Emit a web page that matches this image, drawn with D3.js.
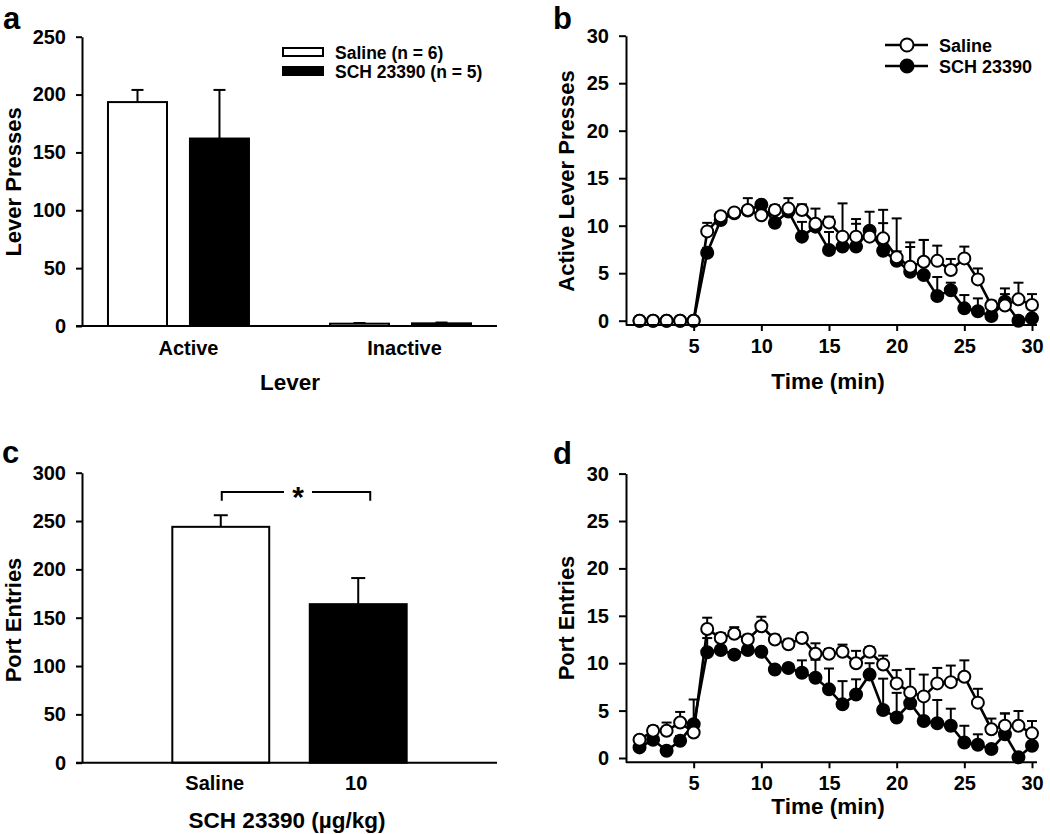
<!DOCTYPE html>
<html>
<head>
<meta charset="utf-8">
<script src="https://cdn.jsdelivr.net/npm/d3@7"></script>
<style>
  html, body { margin: 0; padding: 0; background: #fff; }
  svg { display: block; }
  text { font-family: "Liberation Sans", Arial, Helvetica, sans-serif; font-weight: bold; fill: #000; }
</style>
</head>
<body>
<svg id="chart" width="1050" height="834"></svg>
<script>
// ---------------- DATA ----------------
// Panel a
const leverCategories = ["Active", "Inactive"];
const groupNames = ["Saline (n = 6)", "SCH 23390 (n = 5)"];
const salineLever = [193.5, 2.0];
const salineLeverErr = [10.5, 0.6];
const schLever = [162, 2.3];
const schLeverErr = [42, 0.7];
const leverTicks = [0, 50, 100, 150, 200, 250];

// Panel c
const doseCategories = ["Saline", "10"];
const portTotals = [244, 164];
const portTotalsErr = [12, 27];
const portTotalTicks = [0, 50, 100, 150, 200, 250, 300];

// Panels b & d (time course)
const lineSeriesNames = ["Saline", "SCH 23390"];
const minutes = [1,2,3,4,5,6,7,8,9,10,11,12,13,14,15,16,17,18,19,20,21,22,23,24,25,26,27,28,29,30];
const timeTicks = [5, 10, 15, 20, 25, 30];
const countTicks = [0, 5, 10, 15, 20, 25, 30];

const salineActive = [0,0,0,0,0,9.4,11.0,11.4,11.65,11.1,11.65,11.8,11.65,10.2,10.35,8.85,8.85,8.85,8.67,6.67,5.68,6.2,6.3,5.33,6.56,4.35,1.6,1.6,2.25,1.65];
const salineActiveErr = [0,0,0,0,0,0.9,0.4,0.3,1.25,0.5,0.5,1.1,0.6,1.6,0.6,3.5,1.85,0.6,3.0,4.1,2.57,2.3,1.6,1.17,1.24,1.15,0.5,1.8,1.75,1.15];
const schActive = [0,0,0,0,0,7.16,10.6,11.3,11.6,12.2,10.3,11.5,8.85,9.9,7.44,7.8,7.8,9.47,7.37,6.3,5.16,4.8,2.6,3.2,1.3,1.0,0.5,2.0,0,0.25];
const schActiveErr = [0,0,0,0,0,0.5,0.4,0.3,0.4,0.3,0.4,0.5,1.55,0.6,1.9,0.8,2.4,2.0,2.9,1.0,2.6,3.7,2.0,0.8,1.4,1.35,0.4,0.8,0.3,0.4];

const salinePort = [1.92,2.87,2.87,3.74,2.69,13.6,12.66,13.1,12.5,13.9,12.5,12.0,12.66,11.0,11.0,11.2,10.0,11.2,9.86,7.87,6.9,6.5,7.87,8.0,8.57,5.84,3.04,3.4,3.4,2.6];
const salinePortErr = [0.4,0.5,0.87,1.12,0.5,1.2,0.5,0.7,0.5,1.0,0.5,0.5,0.5,1.1,0.5,0.76,1.3,0.5,0.94,1.4,2.5,2.3,1.63,1.75,1.73,1.46,1.12,1.3,1.56,1.3];
const schPort = [1.12,1.92,0.77,1.82,3.57,11.15,11.4,10.9,11.4,11.2,9.34,9.5,9.0,8.46,7.24,5.66,6.7,8.8,5.07,4.27,5.77,3.9,3.67,3.4,1.64,1.4,0.94,2.5,0.07,1.3];
const schPortErr = [0.3,0.4,0.4,0.5,2.6,1.5,0.4,0.4,0.4,0.4,0.4,0.4,1.3,1.9,2.2,2.45,1.6,1.2,3.3,2.6,1.5,2.6,2.45,1.8,1.76,1.1,0.4,2.2,0.3,0.4];

// ---------------- DRAWING ----------------
const svg = d3.select("#chart");
const SW = 2;

function styleAxis(g, fontSize) {
  g.selectAll(".domain").attr("stroke", "#000").attr("stroke-width", SW);
  g.selectAll(".tick line").attr("stroke", "#000").attr("stroke-width", SW);
  g.selectAll(".tick text").style("font-size", fontSize + "px")
    .style("font-family", '"Liberation Sans", Arial, sans-serif').style("font-weight", "bold").attr("fill", "#000");
}

function panelLetter(letter, x, y) {
  svg.append("text").attr("x", x).attr("y", y).style("font-size", "31px").text(letter);
}

function yTitle(txt, x, y) {
  svg.append("text").attr("transform", `translate(${x},${y}) rotate(-90)`)
    .attr("text-anchor", "middle").style("font-size", "22px").text(txt);
}

function xTitle(txt, x, y) {
  svg.append("text").attr("x", x).attr("y", y).attr("text-anchor", "middle")
    .style("font-size", "22.5px").text(txt);
}

function errorBar(g, cx, yTop, yBase, capW) {
  g.append("line").attr("x1", cx).attr("x2", cx).attr("y1", yBase).attr("y2", yTop)
    .attr("stroke", "#000").attr("stroke-width", SW);
  g.append("line").attr("x1", cx - capW / 2).attr("x2", cx + capW / 2).attr("y1", yTop).attr("y2", yTop)
    .attr("stroke", "#000").attr("stroke-width", SW);
}

// ---------- Panel a ----------
(function () {
  const y = d3.scaleLinear().domain([0, 250]).range([326, 36.7]);
  const x0 = d3.scaleBand().domain(leverCategories).range([82, 497]).paddingInner(0.365).paddingOuter(0.117);
  const x1 = d3.scaleBand().domain(groupNames).range([0, x0.bandwidth()]).paddingInner(0.28);
  const series = [
    { name: groupNames[0], vals: salineLever, errs: salineLeverErr, fill: "#fff" },
    { name: groupNames[1], vals: schLever, errs: schLeverErr, fill: "#000" }
  ];
  const g = svg.append("g");
  series.forEach(s => {
    leverCategories.forEach((c, i) => {
      const bx = x0(c) + x1(s.name);
      const bw = x1.bandwidth();
      errorBar(g, bx + bw / 2, y(s.vals[i] + s.errs[i]), y(s.vals[i]), 12);
      g.append("rect").attr("x", bx).attr("y", y(s.vals[i])).attr("width", bw)
        .attr("height", y(0) - y(s.vals[i])).attr("fill", s.fill)
        .attr("stroke", "#000").attr("stroke-width", SW);
    });
  });
  const ya = svg.append("g").attr("transform", "translate(82,0)")
    .call(d3.axisLeft(y).tickValues(leverTicks).tickSize(6).tickSizeOuter(0).tickPadding(10));
  styleAxis(ya, 20);
  const xa = svg.append("g").attr("transform", `translate(0,${y(0)})`)
    .call(d3.axisBottom(x0).tickSize(0).tickSizeOuter(0).tickPadding(15));
  styleAxis(xa, 20);
  xa.select(".domain").attr("d", "M76,0H497");
  xa.selectAll(".tick text").attr("dx", (d, i) => i === 0 ? 10 : 4);

  // legend
  const lg = svg.append("g");
  series.forEach((s, i) => {
    const yy = 52 + i * 19;
    lg.append("rect").attr("x", 283).attr("y", yy - 4).attr("width", 40).attr("height", 8)
      .attr("fill", s.fill).attr("stroke", "#000").attr("stroke-width", SW);
    lg.append("text").attr("x", 335).attr("y", yy + 6.5).style("font-size", "17.5px").text(s.name);
  });

  panelLetter("a", 3, 29);
  yTitle("Lever Presses", 21, 182);
  xTitle("Lever", 290, 390);
})();

// ---------- Panel c ----------
(function () {
  const y = d3.scaleLinear().domain([0, 300]).range([762.7, 472.7]);
  const x = d3.scaleBand().domain(doseCategories).range([82, 497]).paddingInner(0.295).paddingOuter(0.657);
  const fills = ["#fff", "#000"];
  const g = svg.append("g");
  doseCategories.forEach((c, i) => {
    const bx = x(c), bw = x.bandwidth();
    errorBar(g, bx + bw / 2, y(portTotals[i] + portTotalsErr[i]), y(portTotals[i]), 14);
    g.append("rect").attr("x", bx).attr("y", y(portTotals[i])).attr("width", bw)
      .attr("height", y(0) - y(portTotals[i])).attr("fill", fills[i])
      .attr("stroke", "#000").attr("stroke-width", SW);
  });
  const ya = svg.append("g").attr("transform", "translate(82,0)")
    .call(d3.axisLeft(y).tickValues(portTotalTicks).tickSize(6).tickSizeOuter(0).tickPadding(10));
  styleAxis(ya, 20);
  const xa = svg.append("g").attr("transform", `translate(0,${y(0)})`)
    .call(d3.axisBottom(x).tickSize(0).tickSizeOuter(0).tickPadding(13));
  styleAxis(xa, 20);
  xa.select(".domain").attr("d", "M76,0H497");
  xa.selectAll(".tick text").attr("dx", (d, i) => i === 0 ? -6 : -2);

  // significance bracket
  const bl = x("Saline") + x.bandwidth() / 2 + 1;
  const br = x("10") + x.bandwidth() / 2 + 12;
  const by = y(280), bt = y(271);
  const mid = (bl + br) / 2 + 2;
  const br1 = svg.append("g").attr("fill", "none").attr("stroke", "#000").attr("stroke-width", SW);
  br1.append("path").attr("d", `M${bl},${bt}V${by}H${mid - 14}`);
  br1.append("path").attr("d", `M${mid + 14},${by}H${br}V${bt}`);
  svg.append("text").attr("x", mid).attr("y", by + 15).attr("text-anchor", "middle")
    .style("font-size", "30px").text("*");

  panelLetter("c", 2, 463);
  yTitle("Port Entries", 21, 620);
  xTitle("SCH 23390 (µg/kg)", 287, 828);
})();

// ---------- Line panels ----------
function linePanel(opts) {
  const x = d3.scaleLinear().domain([0, 30]).range([626, 1032]);
  const y = d3.scaleLinear().domain([-0.45, 30]).range([opts.y0 + 0.45 * opts.k, opts.y0 - 30 * opts.k]);
  const series = [
    { vals: opts.sch, errs: opts.schErr, fill: "#000" },
    { vals: opts.sal, errs: opts.salErr, fill: "#fff" }
  ];
  const line = d3.line().x((d, i) => x(minutes[i])).y(d => y(d));
  const g = svg.append("g");
  series.forEach(s => {
    const sg = g.append("g");
    s.vals.forEach((v, i) => {
      if (s.errs[i] > 0) errorBar(sg, x(minutes[i]), y(v + s.errs[i]), y(v), 10);
    });
    sg.append("path").datum(s.vals).attr("d", line).attr("fill", "none")
      .attr("stroke", "#000").attr("stroke-width", 2.6);
    sg.selectAll("circle").data(s.vals).enter().append("circle")
      .attr("cx", (d, i) => x(minutes[i])).attr("cy", d => y(d)).attr("r", 6)
      .attr("fill", s.fill).attr("stroke", "#000").attr("stroke-width", 2);
  });
  const ya = svg.append("g").attr("transform", "translate(626,0)")
    .call(d3.axisLeft(y).tickValues(countTicks).tickSize(7).tickSizeOuter(0).tickPadding(10));
  styleAxis(ya, 20);
  const xa = svg.append("g").attr("transform", `translate(0,${y(-0.45)})`)
    .call(d3.axisBottom(x).tickValues(timeTicks).tickSize(6).tickSizeOuter(0).tickPadding(8));
  styleAxis(xa, 20);
  xa.select(".domain").attr("d", "M626,0H1037");

  if (opts.legend) {
    const lg = svg.append("g");
    [{ name: lineSeriesNames[0], fill: "#fff" }, { name: lineSeriesNames[1], fill: "#000" }].forEach((s, i) => {
      const yy = 45 + i * 21;
      lg.append("line").attr("x1", 885).attr("x2", 928).attr("y1", yy).attr("y2", yy)
        .attr("stroke", "#000").attr("stroke-width", 2.5);
      lg.append("circle").attr("cx", 907).attr("cy", yy).attr("r", 6.5)
        .attr("fill", s.fill).attr("stroke", "#000").attr("stroke-width", 2);
      lg.append("text").attr("x", 939).attr("y", yy + 6.5).style("font-size", "18px").text(s.name);
    });
  }
  panelLetter(opts.letter, 553, opts.letterY);
  yTitle(opts.yTitle, 574, opts.yTitleY);
  xTitle("Time (min)", 828, opts.xTitleY);
}

linePanel({ y0: 320.7, k: 9.5, sal: salineActive, salErr: salineActiveErr, sch: schActive, schErr: schActiveErr,
  legend: true, letter: "b", letterY: 29, yTitle: "Active Lever Presses", yTitleY: 181, xTitleY: 389 });
linePanel({ y0: 758, k: 9.48, sal: salinePort, salErr: salinePortErr, sch: schPort, schErr: schPortErr,
  legend: false, letter: "d", letterY: 464, yTitle: "Port Entries", yTitleY: 618, xTitleY: 814 });
</script>
</body>
</html>
